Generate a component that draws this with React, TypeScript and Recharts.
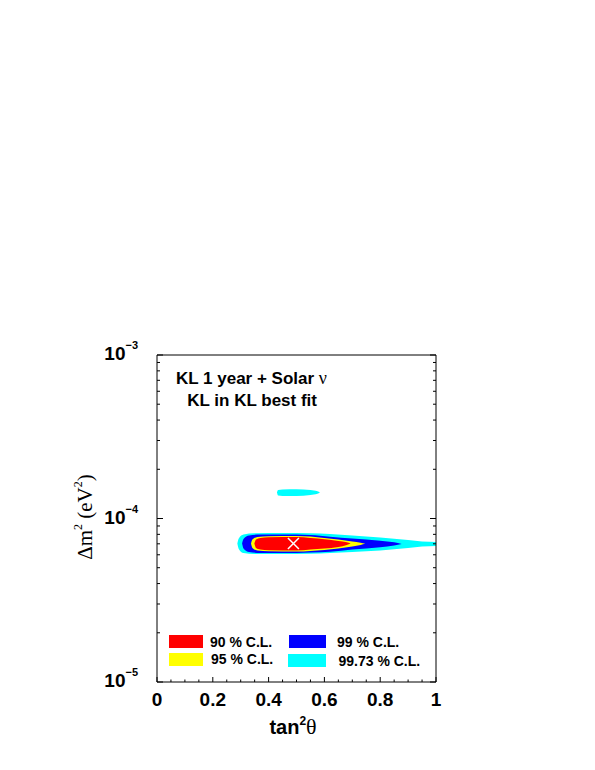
import React from "react";
import { ComposedChart, Area, Scatter, XAxis, YAxis, Customized } from "recharts";

// contours: [tan^2 theta, dm2 low, dm2 high]
const cl9973Main: [number, number, number][] = [
  [0.288, 7.03e-5, 7.03e-5],
  [0.293, 6.51e-5, 7.55e-5],
  [0.31, 6.15e-5, 7.98e-5],
  [0.35, 6.07e-5, 8.13e-5],
  [0.45, 6.07e-5, 8.15e-5],
  [0.55, 6.09e-5, 8.12e-5],
  [0.62, 6.15e-5, 8.04e-5],
  [0.7, 6.24e-5, 7.87e-5],
  [0.8, 6.37e-5, 7.65e-5],
  [0.9, 6.6e-5, 7.39e-5],
  [0.95, 6.74e-5, 7.23e-5],
  [1.0, 6.79e-5, 7.18e-5],
];
const cl9973Island: [number, number, number][] = [
  [0.43, 1.442e-4, 1.442e-4],
  [0.434, 1.382e-4, 1.494e-4],
  [0.45, 1.373e-4, 1.504e-4],
  [0.5, 1.373e-4, 1.508e-4],
  [0.55, 1.392e-4, 1.494e-4],
  [0.575, 1.418e-4, 1.467e-4],
  [0.584, 1.442e-4, 1.442e-4],
];
const cl99: [number, number, number][] = [
  [0.305, 7.03e-5, 7.03e-5],
  [0.31, 6.56e-5, 7.49e-5],
  [0.33, 6.24e-5, 7.87e-5],
  [0.37, 6.15e-5, 7.98e-5],
  [0.45, 6.15e-5, 7.98e-5],
  [0.55, 6.2e-5, 7.93e-5],
  [0.62, 6.27e-5, 7.74e-5],
  [0.7, 6.46e-5, 7.55e-5],
  [0.8, 6.67e-5, 7.31e-5],
  [0.85, 6.84e-5, 7.15e-5],
  [0.877, 6.98e-5, 6.98e-5],
];
const cl95: [number, number, number][] = [
  [0.337, 7.03e-5, 7.03e-5],
  [0.342, 6.6e-5, 7.44e-5],
  [0.36, 6.37e-5, 7.71e-5],
  [0.4, 6.31e-5, 7.78e-5],
  [0.5, 6.28e-5, 7.82e-5],
  [0.55, 6.33e-5, 7.76e-5],
  [0.6, 6.42e-5, 7.6e-5],
  [0.65, 6.56e-5, 7.44e-5],
  [0.7, 6.74e-5, 7.23e-5],
  [0.73, 6.89e-5, 7.1e-5],
  [0.746, 7.0e-5, 7.0e-5],
];
const cl90: [number, number, number][] = [
  [0.349, 7.03e-5, 7.03e-5],
  [0.355, 6.6e-5, 7.44e-5],
  [0.37, 6.46e-5, 7.6e-5],
  [0.4, 6.39e-5, 7.67e-5],
  [0.5, 6.37e-5, 7.71e-5],
  [0.55, 6.46e-5, 7.6e-5],
  [0.6, 6.56e-5, 7.46e-5],
  [0.65, 6.69e-5, 7.28e-5],
  [0.68, 6.89e-5, 7.15e-5],
  [0.694, 7.03e-5, 7.03e-5],
];
const bestFit = [{ x: 0.489, y: 7.03e-5 }];

const xTicks = [0, 0.05, 0.1, 0.15, 0.2, 0.25, 0.3, 0.35, 0.4, 0.45, 0.5, 0.55, 0.6, 0.65, 0.7, 0.75, 0.8, 0.85, 0.9, 0.95, 1];
const xLabels = [0, 0.2, 0.4, 0.6, 0.8, 1];
const yTicks = [
  1e-5, 2e-5, 3e-5, 4e-5, 5e-5, 6e-5, 7e-5, 8e-5, 9e-5,
  1e-4, 2e-4, 3e-4, 4e-4, 5e-4, 6e-4, 7e-4, 8e-4, 9e-4, 1e-3,
];

const legendNames = ["90 % C.L.", "95 % C.L.", "99 % C.L.", "99.73 % C.L."];
const legendColors = ["#ff0000", "#ffff00", "#0000ff", "#00ffff"];

const SANS = "'Liberation Sans', Arial, Helvetica, sans-serif";
const SERIF = "'Liberation Serif', 'Times New Roman', serif";

const toRows = (pts: [number, number, number][]) => pts.map(([x, lo, hi]) => ({ x, range: [lo, hi] }));

const isMajorX = (v: number) => xLabels.some((m) => Math.abs(m - v) < 1e-9);
const isDecade = (v: number) => Math.abs(Math.log10(v) - Math.round(Math.log10(v))) < 1e-6;

function BottomTick({ x, y, payload }: any) {
  const v = payload.value;
  const major = isMajorX(v);
  return (
    <g>
      <line x1={x} x2={x} y1={y} y2={y - (major ? 5 : 2.5)} stroke="#000" />
      {major && (
        <text x={x} y={y + 24} textAnchor="middle" fontFamily={SANS} fontWeight="bold" fontSize={19} fill="#000">
          {String(v)}
        </text>
      )}
    </g>
  );
}

function TopTick({ x, y, payload }: any) {
  const major = isMajorX(payload.value);
  return <line x1={x} x2={x} y1={y} y2={y + (major ? 4 : 2.5)} stroke="#000" />;
}

function LeftTick({ x, y, payload }: any) {
  const v = payload.value;
  const major = isDecade(v);
  const e = Math.round(Math.log10(v));
  return (
    <g>
      <line x1={x} x2={x + (major ? 6 : 3)} y1={y} y2={y} stroke="#000" />
      {major && (
        <text x={x - 19} y={y + 5} textAnchor="end" fontFamily={SANS} fontWeight="bold" fontSize={19} fill="#000">
          <tspan>10</tspan>
          <tspan dy={-11} fontSize={11}>{"\u2212" + String(-e)}</tspan>
        </text>
      )}
    </g>
  );
}

function RightTick({ x, y, payload }: any) {
  const major = isDecade(payload.value);
  return <line x1={x} x2={x - (major ? 6 : 3)} y1={y} y2={y} stroke="#000" />;
}

function BestFitMark({ cx, cy }: any) {
  const r = 5.5;
  return (
    <g stroke="#ffffff" strokeWidth={1.5}>
      <line x1={cx - r} y1={cy - r} x2={cx + r} y2={cy + r} />
      <line x1={cx - r} y1={cy + r} x2={cx + r} y2={cy - r} />
    </g>
  );
}

function Annotations() {
  const swatches = [
    { x: 161, y: 627, w: 34, tx: 202, ty: 639 },
    { x: 161, y: 645, w: 34, tx: 203, ty: 655.5 },
    { x: 281, y: 627, w: 37, tx: 329, ty: 639 },
    { x: 280, y: 646, w: 38, tx: 330.5, ty: 658 },
  ];
  return (
    <g>
      <text x={168} y={376} fontFamily={SANS} fontWeight="bold" fontSize={17} fill="#000">
        KL 1 year + Solar <tspan fontFamily={SERIF} fontWeight="normal" fontSize={18}>ν</tspan>
      </text>
      <text x={179.3} y={398} fontFamily={SANS} fontWeight="bold" fontSize={17} fill="#000">
        KL in KL best fit
      </text>
      {swatches.map((s, i) => (
        <g key={legendNames[i]}>
          <rect x={s.x} y={s.y} width={s.w} height={13} fill={legendColors[i]} />
          <text x={s.tx} y={s.ty} fontFamily={SANS} fontWeight="bold" fontSize={14} fill="#000">
            {legendNames[i]}
          </text>
        </g>
      ))}
      <text
        x={84}
        y={509}
        transform="rotate(-90 84 509)"
        textAnchor="middle"
        fontFamily={SERIF}
        fontSize={21}
        fill="#000"
      >
        Δm<tspan dy={-10} fontSize={12}>2</tspan>
        <tspan dy={10}> (eV</tspan>
        <tspan dy={-10} fontSize={12}>2</tspan>
        <tspan dy={10}>)</tspan>
      </text>
      <text x={285} y={726} textAnchor="middle" fontFamily={SANS} fontWeight="bold" fontSize={20} fill="#000">
        tan<tspan dy={-9} fontSize={12}>2</tspan>
        <tspan dy={9} fontFamily={SERIF} fontWeight="normal" fontSize={22}>θ</tspan>
      </text>
    </g>
  );
}

export default function App() {
  const layers = [
    { key: "cl9973", data: toRows(cl9973Main), color: legendColors[3] },
    { key: "cl9973b", data: toRows(cl9973Island), color: legendColors[3] },
    { key: "cl99", data: toRows(cl99), color: legendColors[2] },
    { key: "cl95", data: toRows(cl95), color: legendColors[1] },
    { key: "cl90", data: toRows(cl90), color: legendColors[0] },
  ];
  return (
    <ComposedChart width={587} height={754} margin={{ top: 346, right: 158, bottom: 79, left: 148 }}>
      <XAxis
        xAxisId={0}
        dataKey="x"
        type="number"
        domain={[0, 1]}
        ticks={xTicks}
        interval={0}
        allowDataOverflow
        height={1}
        tickSize={0}
        tickMargin={0}
        tickLine={false}
        axisLine={{ stroke: "#000" }}
        tick={<BottomTick />}
      />
      <XAxis
        xAxisId="top"
        orientation="top"
        type="number"
        domain={[0, 1]}
        ticks={xTicks}
        interval={0}
        allowDataOverflow
        height={1}
        tickSize={0}
        tickMargin={0}
        tickLine={false}
        axisLine={{ stroke: "#000" }}
        tick={<TopTick />}
      />
      <YAxis
        yAxisId={0}
        type="number"
        scale="log"
        domain={[1e-5, 1e-3]}
        ticks={yTicks}
        interval={0}
        allowDataOverflow
        width={1}
        tickSize={0}
        tickMargin={0}
        tickLine={false}
        axisLine={{ stroke: "#000" }}
        tick={<LeftTick />}
      />
      <YAxis
        yAxisId="right"
        orientation="right"
        type="number"
        scale="log"
        domain={[1e-5, 1e-3]}
        ticks={yTicks}
        interval={0}
        allowDataOverflow
        width={1}
        tickSize={0}
        tickMargin={0}
        tickLine={false}
        axisLine={{ stroke: "#000" }}
        tick={<RightTick />}
      />
      {layers.map((l) => (
        <Area
          key={l.key}
          data={l.data}
          dataKey="range"
          type="monotone"
          fill={l.color}
          fillOpacity={1}
          stroke="none"
          dot={false}
          activeDot={false}
          isAnimationActive={false}
        />
      ))}
      <Scatter data={bestFit} dataKey="y" shape={<BestFitMark />} isAnimationActive={false} />
      <Customized component={Annotations} />
    </ComposedChart>
  );
}
